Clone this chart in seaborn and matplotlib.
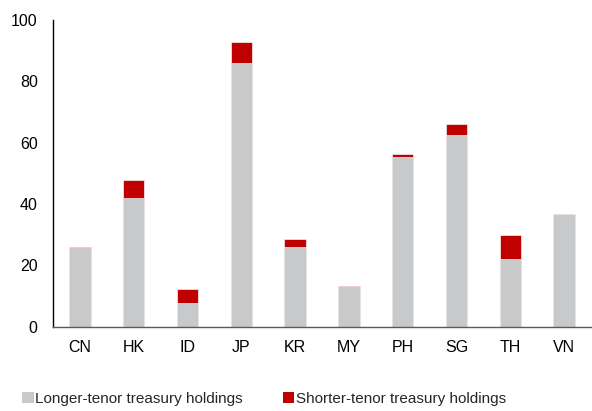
import matplotlib
matplotlib.use("Agg")
import matplotlib.pyplot as plt
import seaborn as sns
import pandas as pd
from matplotlib.patches import Patch

# Treasury holdings by market (longer vs shorter tenor)
markets = ["CN", "HK", "ID", "JP", "KR", "MY", "PH", "SG", "TH", "VN"]
longer = [25.5, 41.8, 7.7, 85.9, 26.0, 13.0, 55.2, 62.6, 22.0, 36.7]
shorter = [0.4, 6.0, 4.4, 6.8, 2.4, 0.2, 1.0, 3.5, 7.8, 0.0]

longer_label = "Longer-tenor treasury holdings"
shorter_label = "Shorter-tenor treasury holdings"
gray = "#C8C9CB"
red = "#C00000"

df = pd.DataFrame({"market": markets, "longer": longer, "shorter": shorter})
df["total"] = df["longer"] + df["shorter"]

sns.set_theme(style="white")
plt.rcParams["font.family"] = ["Liberation Sans", "DejaVu Sans"]

fig = plt.figure(figsize=(5.92, 4.11), dpi=100)
ax = fig.add_axes([53 / 592, (411 - 326.5) / 411, (591 - 53) / 592, (326.5 - 20) / 411])

# stacked bars: full height in red, longer-tenor portion over it in gray
sns.barplot(data=df, x="market", y="total", color=red, width=0.4,
            edgecolor="#f2f2f2", linewidth=0.5, saturation=1, ax=ax)
sns.barplot(data=df, x="market", y="longer", color=gray, width=0.4,
            edgecolor="#ececec", linewidth=0.5, saturation=1, ax=ax)

ax.set_xlim(-0.5, len(markets) - 0.5)
ax.set_ylim(0, 100)
ax.set_yticks([0, 20, 40, 60, 80, 100])
ax.set_xlabel("")
ax.set_ylabel("")
ax.tick_params(axis="both", length=0, labelsize=11.5, colors="#000000")
ax.tick_params(axis="y", pad=11)
ax.tick_params(axis="x", pad=10)

for side in ["top", "right"]:
    ax.spines[side].set_visible(False)
ax.spines["left"].set_color("#000000")
ax.spines["left"].set_linewidth(1.0)
ax.spines["bottom"].set_color("#595959")
ax.spines["bottom"].set_linewidth(1.0)

handles = [Patch(facecolor=gray, edgecolor="none", label=longer_label),
           Patch(facecolor=red, edgecolor="none", label=shorter_label)]
fig.legend(handles=handles, loc="center", bbox_to_anchor=(264 / 592, (411 - 399) / 411),
           ncol=2, frameon=False, fontsize=11, handlelength=0.75, handleheight=0.75,
           handletextpad=0.1, columnspacing=2.6, borderpad=0, borderaxespad=0)

fig.savefig("out.png", dpi=100)
